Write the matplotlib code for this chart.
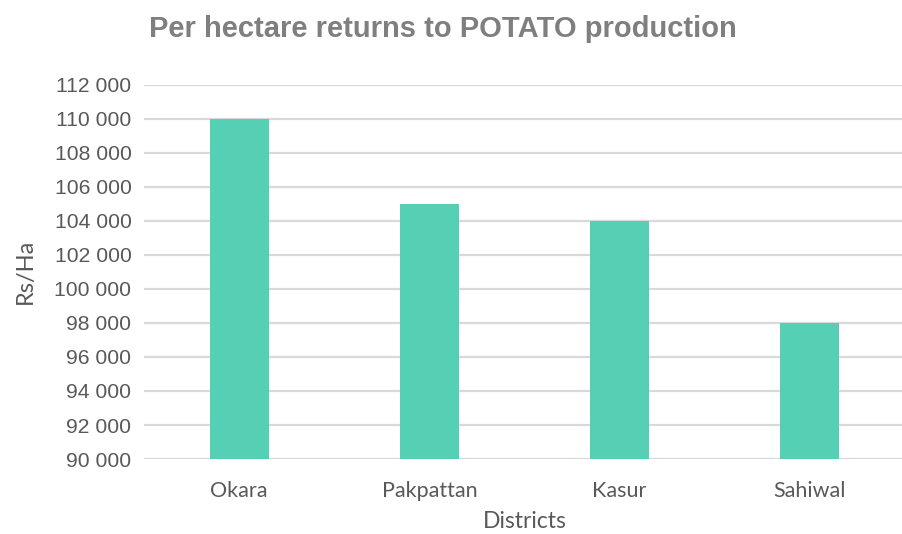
import matplotlib
matplotlib.use("Agg")
import matplotlib.pyplot as plt
from matplotlib.ticker import FuncFormatter

districts = ["Okara", "Pakpattan", "Kasur", "Sahiwal"]
returns = [110000, 105000, 104000, 98000]
y_ticks = list(range(90000, 112001, 2000))

fig = plt.figure(figsize=(9.03, 5.34), dpi=100)
ax = fig.add_axes([144/903, 1-459/534, 761/903, 374/534])

ax.bar(range(len(districts)), returns, width=0.31, color="#55D0B4", zorder=3)
ax.set_xlim(-0.5, len(districts) - 0.5)
ax.set_ylim(90000, 112000)
ax.set_yticks(y_ticks)
ax.yaxis.set_major_formatter(FuncFormatter(lambda v, p: f"{int(v):,}".replace(",", " ")))
ax.grid(axis="y", color="#D9D9D9", linewidth=1.6, zorder=0)
for s in ax.spines.values():
    s.set_visible(False)
ax.tick_params(axis="both", length=0)
ax.tick_params(axis="y", pad=9, labelsize=15.2, labelcolor="#595959")
ax.set_xticks(range(len(districts)))
ax.set_xticklabels(districts, fontfamily="Lato", fontsize=15.5, color="#595959")
ax.tick_params(axis="x", pad=16)
for lab in ax.get_yticklabels():
    lab.set_fontfamily("Liberation Sans")

fig.text(443/903, 1-29/534, "Per hectare returns to POTATO production", ha="center", va="center",
         fontfamily="Liberation Sans", fontweight="bold", fontsize=21, color="#7F7F7F")
fig.text(25/903, 1-271/534, "Rs/Ha", rotation=90, ha="center", va="center",
         fontfamily="Lato", fontsize=17, color="#595959")
fig.text(525/903, 1-521/534, "Districts", ha="center", va="center",
         fontfamily="Lato", fontsize=16.5, color="#595959")

fig.savefig("out.png", dpi=100)
